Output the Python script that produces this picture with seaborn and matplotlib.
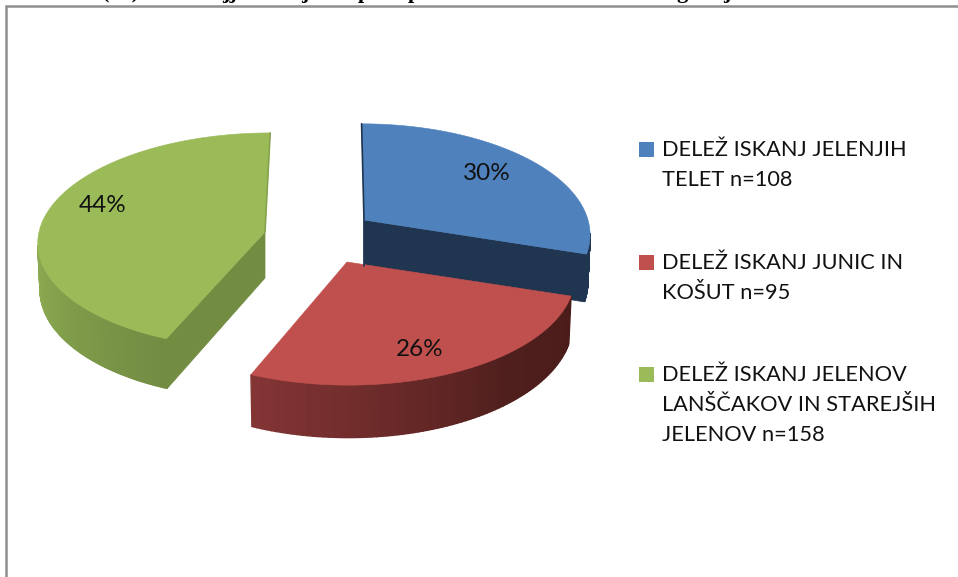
import numpy as np
import seaborn as sns
import matplotlib.pyplot as plt
from matplotlib.colors import LinearSegmentedColormap
from matplotlib.patches import Polygon, Rectangle

# --- data ---
counts = [108, 95, 158]
legend_names = [
    "DELEŽ ISKANJ JELENJIH\nTELET n=",
    "DELEŽ ISKANJ JUNIC IN\nKOŠUT n=",
    "DELEŽ ISKANJ JELENOV\nLANŠČAKOV IN STAREJŠIH\nJELENOV n=",
]
# only the bottoms of these title letters are left on the page
title_bits = ["(%)", "jj", "j", "p", "p", "g", "j"]

# --- style ---
top_colors = ["#4f81bd", "#c0504d", "#9bbb59"]
wall_colors = [
    ["#1f3550", "#1f3550"],
    ["#833534", "#6a2a29", "#4f1f1d", "#4a1c1a"],
    ["#8fad52", "#7f9c4a", "#728c42"],
]
cut_colors = ["#1f3550", None, "#728c42"]
apex = [(364, 220), (347, 262), (265, 232)]
tilt = [22, 10, -70]
rx = [224, 226, 226]
ry = [108, 108, 107]
persp = [0.123, 0.123, 0.08]
wall_from = [97, None, None]
wall_to = [None, None, 263]
label_xy = [(487, 174), (420, 350), (103, 206)]
legend_y = [142, 255, 367]
bit_x = [102, 222, 301, 358, 408, 676, 723]

DEPTH = 46

sns.set_theme(style="white")
plt.rcParams["font.family"] = ["Lato", "DejaVu Sans"]


def rim(theta, i, lower=False):
    # point on the tilted pie rim, theta clockwise from the top in degrees
    t = np.radians(theta)
    u, v = np.sin(t), -np.cos(t)
    s = 1 / (1 - persp[i] * v)
    x = rx[i] * u * s + tilt[i] * (s - 1)
    y = ry[i] * v * s
    if lower:
        return apex[i][0] + x * 0.99, apex[i][1] + y + DEPTH * s
    return apex[i][0] + x, apex[i][1] + y


fig = plt.figure(figsize=(9.58, 5.77), dpi=100)
ax = fig.add_axes([0, 0, 1, 1])
ax.set_xlim(0, 958)
ax.set_ylim(577, 0)
ax.axis("off")

# page frame
ax.plot([6, 6, 958], [577, 6, 6], color="#8f8f8f", lw=1.8, solid_joinstyle="miter")

for bit, x in zip(title_bits, bit_x):
    ax.text(x, -2, bit, family="Liberation Serif", weight="bold", fontsize=16,
            ha="left", va="baseline", color="black", clip_on=False)

edges = np.concatenate([[0], np.cumsum(counts) / np.sum(counts) * 360])
palette = sns.color_palette(top_colors)

# back to front: green, blue, red
for i in [2, 0, 1]:
    a0, a1 = edges[i], edges[i + 1]
    px, py = apex[i]

    # outer wall with a sideways gradient, light end on the left
    w0 = wall_from[i] if wall_from[i] is not None else a0
    w1 = wall_to[i] if wall_to[i] is not None else a1
    cmap = LinearSegmentedColormap.from_list("wall", wall_colors[i])
    steps = np.linspace(w0, w1, 80)[::-1]
    for k in range(len(steps) - 1):
        pts = [rim(steps[k], i), rim(steps[k + 1], i),
               rim(steps[k + 1], i, True), rim(steps[k], i, True)]
        ax.add_patch(Polygon(pts, color=cmap(k / 78), lw=1.0))

    # flat cut face
    if i == 0:
        ax.add_patch(Polygon([(px, py), rim(a1, i), rim(a1, i, True), (px, py + DEPTH)],
                             color=cut_colors[i], lw=0.5))
        ax.plot([rim(a0, i)[0], px, px], [rim(a0, i)[1], py, py + DEPTH],
                color=cut_colors[i], lw=1.2)
    if i == 2:
        ax.add_patch(Polygon([(px, py), rim(a0, i), rim(a0, i, True), (px, py + DEPTH)],
                             color=cut_colors[i], lw=0.5))
        ax.plot([rim(a1, i)[0], px], [rim(a1, i)[1], py], color="#86a34c", lw=1.2)

    # top face
    arc = [rim(t, i) for t in np.linspace(a0, a1, 200)]
    ax.add_patch(Polygon([(px, py)] + arc, closed=True, facecolor=palette[i],
                         edgecolor=palette[i], lw=0.4))

for i, n in enumerate(counts):
    ax.text(*label_xy[i], f"{n / sum(counts) * 100:.0f}%", fontsize=17.5,
            ha="center", va="center", color="#111111")

# legend
for i, name in enumerate(legend_names):
    ax.add_patch(Rectangle((639, legend_y[i]), 15, 15, facecolor=palette[i], edgecolor="none"))
    ax.text(662, legend_y[i] - 2, f"{name}{counts[i]}", fontsize=15.7, linespacing=1.62,
            ha="left", va="top", color="#111111")

fig.savefig("out.png", dpi=100)
